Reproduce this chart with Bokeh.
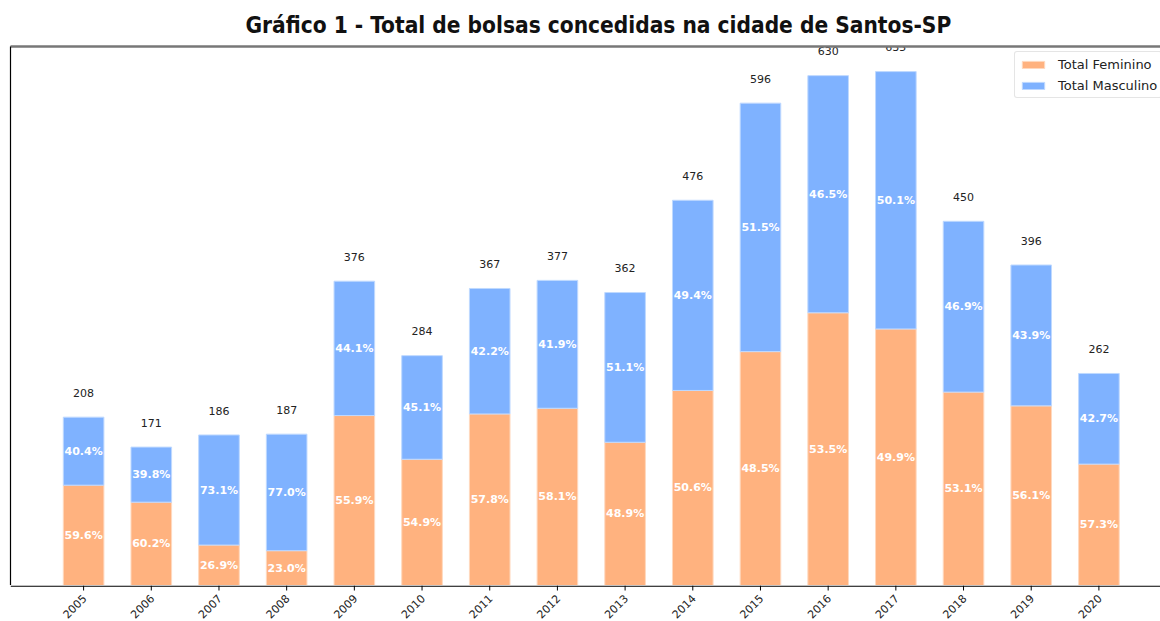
import math
from bokeh.plotting import figure
from bokeh.layouts import column
from bokeh.models import ColumnDataSource, FixedTicker, LinearAxis, Legend, LegendItem, Range1d, Span
from bokeh.core.properties import value
from bokeh.embed import file_html
from bokeh.resources import INLINE

years = ["2005", "2006", "2007", "2008", "2009", "2010", "2011", "2012",
         "2013", "2014", "2015", "2016", "2017", "2018", "2019", "2020"]
feminino = [124, 103, 50, 43, 210, 156, 212, 219, 177, 241, 289, 337, 317, 239, 222, 150]
masculino = [84, 68, 136, 144, 166, 128, 155, 158, 185, 235, 307, 293, 318, 211, 174, 112]

FEM_COLOR = "#ffb27f"
MASC_COLOR = "#7fb2ff"

x = list(range(len(years)))
total = [f + m for f, m in zip(feminino, masculino)]
src = ColumnDataSource(dict(
    x=x,
    year=years,
    fem=feminino,
    top=total,
    fem_mid=[f / 2 for f in feminino],
    masc_mid=[f + m / 2 for f, m in zip(feminino, masculino)],
    tot_y=[t + 30 for t in total],
    fem_pct=[f"{100 * f / t:.1f}%" for f, t in zip(feminino, total)],
    masc_pct=[f"{100 * m / t:.1f}%" for m, t in zip(masculino, total)],
    tot_lbl=[str(t) for t in total],
))

xr = Range1d(-1.08, 15.91)

p = figure(width=1160, height=585, x_range=xr, y_range=Range1d(0, 666),
           output_backend="svg", toolbar_location=None, x_axis_location=None,
           min_border_left=9, min_border_right=0, min_border_top=0, min_border_bottom=0)
p.grid.visible = False
p.outline_line_color = None
p.background_fill_color = "white"
p.border_fill_color = "white"

# title
p.title.text = "Gráfico 1 - Total de bolsas concedidas na cidade de Santos-SP"
p.title.text_font = "DejaVu Sans Condensed"
p.title.text_font_style = "bold"
p.title.text_font_size = "22.5px"
p.title.align = "left"
p.title.offset = 235
p.title.standoff = 18
p.title.text_color = "#111111"

# left axis: spine only
p.yaxis.ticker = FixedTicker(ticks=[])
p.yaxis.axis_line_color = "black"
p.yaxis.axis_line_width = 1.2
p.yaxis.major_tick_line_color = None
p.yaxis.minor_tick_line_color = None

# top border line
top_axis = LinearAxis(ticker=FixedTicker(ticks=[]), axis_line_color="#777777", axis_line_width=2.5,
                      major_tick_line_color=None, minor_tick_line_color=None)
p.add_layout(top_axis, "above")

r_fem = p.vbar(x="x", bottom=0, top="fem", width=0.6, source=src,
               fill_color=FEM_COLOR, line_color="#ffd9bf", line_width=1)
r_masc = p.vbar(x="x", bottom="fem", top="top", width=0.6, source=src,
                fill_color=MASC_COLOR, line_color="#bfd9ff", line_width=1)

common = dict(text_font=value("DejaVu Sans"), text_font_size="11px",
              text_align="center", text_baseline="middle")
p.text(x="x", y="fem_mid", text="fem_pct", source=src, text_color="white",
       text_font_style="bold", **common)
p.text(x="x", y="masc_mid", text="masc_pct", source=src, text_color="white",
       text_font_style="bold", **common)
p.text(x="x", y="tot_y", text="tot_lbl", source=src, text_color="#222222", **common)

legend = Legend(items=[LegendItem(label="Total Feminino", renderers=[r_fem]),
                       LegendItem(label="Total Masculino", renderers=[r_masc])],
                location=(1004, 487))
legend.label_text_font = "DejaVu Sans"
legend.label_text_font_size = "13px"
legend.label_text_color = "#222222"
legend.label_height = 16
legend.glyph_width = 28
legend.glyph_height = 9
legend.spacing = 5
legend.padding = 4
legend.margin = 0
legend.border_line_color = "#cccccc"
legend.border_radius = 3
legend.label_standoff = 11
p.add_layout(legend)

# bottom x axis strip: spine, ticks and rotated year labels (y in pixels below the spine)
q = figure(width=1160, height=36, x_range=xr, y_range=Range1d(-36, 0),
           output_backend="svg", toolbar_location=None,
           x_axis_location=None, y_axis_location=None,
           min_border_left=10, min_border_right=0, min_border_top=0, min_border_bottom=0)
q.grid.visible = False
q.outline_line_color = None
q.background_fill_color = "white"
q.border_fill_color = "white"
q.add_layout(Span(location=-0.6, dimension="width", line_color="black", line_width=1.2))
q.segment(x0="x", y0=0, x1="x", y1=-5, source=src, line_color="black", line_width=1)
q.text(x="x", y=-11, text="year", source=src, angle=math.pi / 4,
       text_align="right", text_baseline="middle", x_offset=1,
       text_font=value("DejaVu Sans"), text_font_size="11px", text_color="#222222")

layout = column(p, q, spacing=0)
open("out.html", "w").write(file_html(layout, INLINE))
